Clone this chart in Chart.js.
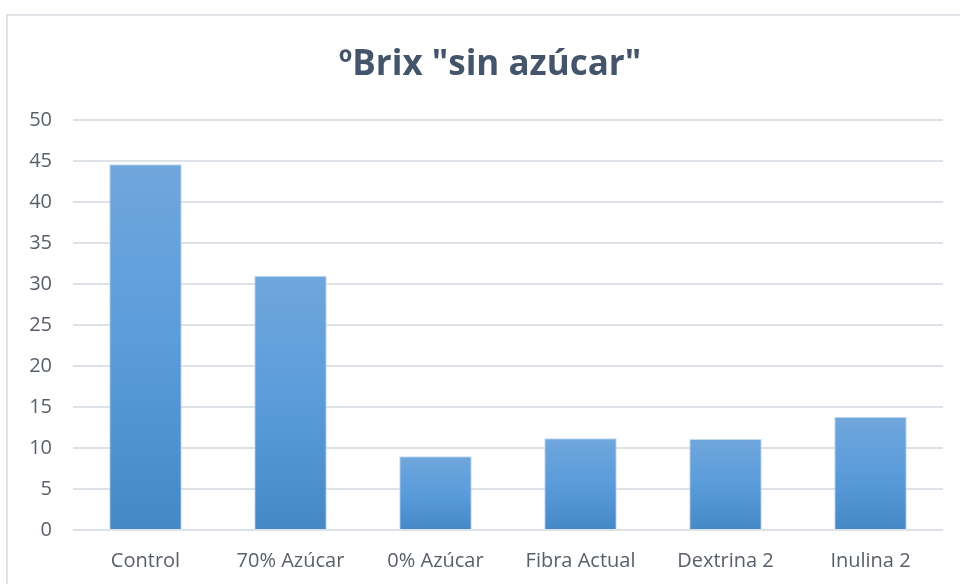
<!DOCTYPE html>
<html>
<head>
<meta charset="utf-8">
<script src="https://cdn.jsdelivr.net/npm/chart.js@4"></script>
<style>
  html, body { margin: 0; padding: 0; background: #fff; }
  .wrap { position: relative; width: 960px; height: 584px; overflow: hidden; }
  .frame { position: absolute; left: 6px; top: 14px; width: 1000px; height: 700px;
           border: 2px solid #dfe3e8; box-sizing: border-box; }
  canvas { position: absolute; left: 0; top: 0; }
</style>
</head>
<body>
<div class="wrap">
  <div class="frame"></div>
  <!-- the original chart runs past the right edge of the picture -->
  <canvas id="brixChart" width="980" height="584"></canvas>
</div>
<script>
// ============================================================
// ºBrix "sin azúcar" – bar chart
// ============================================================

const categories = ['Control', '70% Azúcar', '0% Azúcar', 'Fibra Actual', 'Dextrina 2', 'Inulina 2'];
const brixValues = [44.6, 31.0, 9.0, 11.2, 11.1, 13.8];
const yTicks = [0, 5, 10, 15, 20, 25, 30, 35, 40, 45, 50];

const FONT = '"Open Sans", Lato, sans-serif';

/**
 * Vertical gradient per bar (lighter on top, darker at the base),
 * built from the y scale so every bar gets its own gradient
 */
function barGradient(context) {
  const chart = context.chart;
  const yScale = chart.scales.y;
  if (!yScale || context.dataIndex === undefined) return '#5b9bd5';
  const top = yScale.getPixelForValue(brixValues[context.dataIndex]);
  const base = yScale.getPixelForValue(0);
  // scales are not laid out yet on the very first resolve
  if (!isFinite(top) || !isFinite(base) || top === base) return '#5b9bd5';
  const g = chart.ctx.createLinearGradient(0, top, 0, base);
  g.addColorStop(0, '#70a6dc');
  g.addColorStop(0.5, '#5a9cdb');
  g.addColorStop(1, '#4588c8');
  return g;
}

new Chart(document.getElementById('brixChart'), {
  type: 'bar',
  data: {
    labels: categories,
    datasets: [{
      data: brixValues,
      backgroundColor: barGradient,
      borderColor: 'rgba(190, 215, 240, 0.9)',
      borderWidth: 1,
      barPercentage: 0.5,
      categoryPercentage: 1
    }]
  },
  options: {
    responsive: false,
    animation: false,
    layout: { padding: 0 },
    plugins: {
      legend: { display: false },
      tooltip: { enabled: false },
      title: {
        display: true,
        text: 'ºBrix "sin azúcar"',
        color: '#44546a',
        font: { family: FONT, size: 35, weight: 'bold', lineHeight: 1.2 },
        padding: { top: 44, bottom: 34 }
      }
    },
    scales: {
      x: {
        grid: { display: false, drawTicks: false },
        border: { display: false },
        ticks: {
          color: '#595f69',
          font: { family: FONT, size: 20 },
          padding: 19,
          maxRotation: 0
        },
        afterFit: (scale) => { scale.height = 54; }
      },
      y: {
        min: 0,
        max: 50,
        afterBuildTicks: (scale) => { scale.ticks = yTicks.map(v => ({ value: v })); },
        grid: { color: '#dde2e8', lineWidth: 2, drawTicks: false },
        border: { display: false },
        ticks: {
          color: '#595f69',
          font: { family: FONT, size: 20 },
          padding: 21
        },
        afterFit: (scale) => { scale.width = 73; }
      },
      // empty spacer on the right so the title stays centred on the full frame
      yRight: {
        position: 'right',
        grid: { display: false, drawTicks: false },
        border: { display: false },
        ticks: { display: false },
        afterFit: (scale) => { scale.width = 37; }
      }
    }
  }
});
</script>
</body>
</html>
